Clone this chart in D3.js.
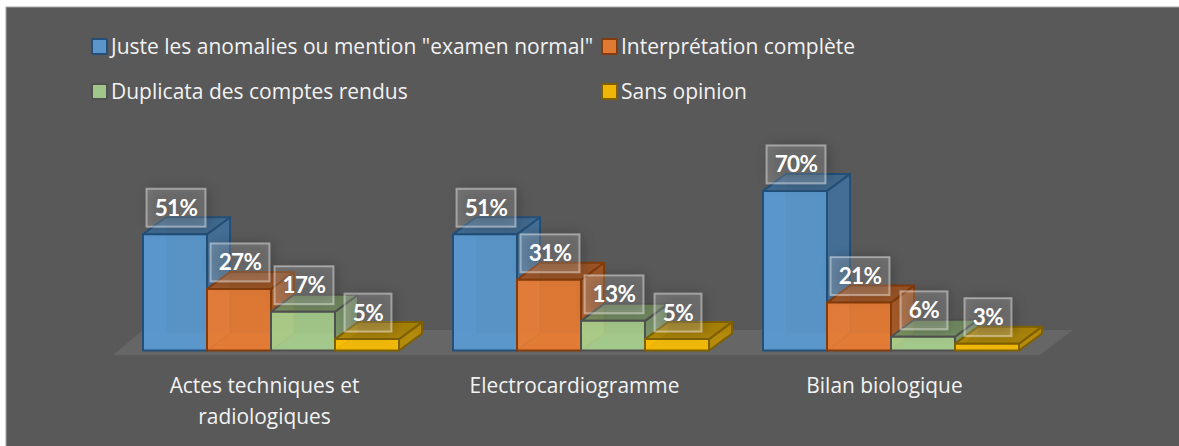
<!DOCTYPE html>
<html>
<head>
<meta charset="utf-8">
<script src="https://cdnjs.cloudflare.com/ajax/libs/d3/7.8.5/d3.min.js"></script>
<style>
	html, body { margin: 0; padding: 0; background: #fff; overflow: hidden; }
	svg { display: block; }
</style>
</head>
<body>
<script>
	var categories = ["Actes techniques et radiologiques", "Electrocardiogramme", "Bilan biologique"];
	var categoryLines = [["Actes techniques et", "radiologiques"], ["Electrocardiogramme"], ["Bilan biologique"]];
	var seriesNames = ["Juste les anomalies ou mention \"examen normal\"", "Interprétation complète", "Duplicata des comptes rendus", "Sans opinion"];

	var justeAnomalies = [51, 51, 70];
	var interpretation = [27, 31, 21];
	var duplicata = [17, 13, 6];
	var sansOpinion = [5, 5, 3];
	var seriesValues = [justeAnomalies, interpretation, duplicata, sansOpinion];

	var frontColors = ["#5b9bd5", "#ed7d31", "#a9d18e", "#ffc000"];
	var edgeColors = ["#234f78", "#843c0c", "#505050", "#7f6000"];

	var depthX = 23, depthY = -17;

	var svg = d3.select("body").append("svg")
		.attr("width", 1179)
		.attr("height", 446);

	var defs = svg.append("defs");
	defs.append("filter").attr("id", "soft")
		.attr("x", "-50%").attr("y", "-50%").attr("width", "200%").attr("height", "200%")
		.append("feGaussianBlur").attr("stdDeviation", 7);

	// fond : va jusqu'aux bords droit et bas
	svg.append("rect")
		.attr("x", 6).attr("y", 7)
		.attr("width", 1179).attr("height", 446)
		.attr("fill", "#595959")
		.attr("stroke", "#a6a6a6");

	var x0 = d3.scaleBand().domain(categories).range([116, 1046]).paddingInner(0.1742).paddingOuter(0.0871);
	var x1 = d3.scaleBand().domain(d3.range(4)).range([0, x0.bandwidth()]);
	var y = d3.scaleLinear().domain([0, 100]).range([350.5, 122.5]);

	// sol
	var floorY = y(0) + 4.5;
	svg.append("polygon")
		.attr("points", [
			[x0.range()[0] - 3, floorY],
			[x0.range()[1] - 6, floorY],
			[x0.range()[1] + 27, floorY - 25],
			[x0.range()[0] + 27, floorY - 25]
		].join(" "))
		.attr("fill", "#666666");

	function poly(g, pts, fill, opacity, stroke) {
		g.append("polygon")
			.attr("points", pts.join(" "))
			.attr("fill", fill)
			.attr("fill-opacity", opacity)
			.attr("stroke", stroke || "none")
			.attr("stroke-width", 2)
			.attr("stroke-linejoin", "round");
	}

	var bars = svg.append("g");
	categories.forEach(function(cat, c) {
		seriesValues.forEach(function(values, s) {
			var l = x0(cat) + x1(s), r = l + x1.bandwidth();
			var t = y(values[c]), b = y(0);
			var dx = depthX, dy = depthY;
			var base = d3.color(frontColors[s]);
			var g = bars.append("g");
			// faces arrière visibles par transparence
			poly(g, [[l, b], [r, b], [r + dx, b + dy], [l + dx, b + dy]], base.brighter(0.25), 0.35);
			poly(g, [[l + dx, b + dy], [r + dx, b + dy], [r + dx, t + dy], [l + dx, t + dy]], base.darker(0.8), 0.35);
			poly(g, [[l, b], [l + dx, b + dy], [l + dx, t + dy], [l, t]], base, 0.5);
			// faces visibles
			poly(g, [[r, b], [r + dx, b + dy], [r + dx, t + dy], [r, t]], base.darker(0.9), 0.85, edgeColors[s]);
			poly(g, [[l, t], [r, t], [r + dx, t + dy], [l + dx, t + dy]], base.darker(1.1), 0.85, edgeColors[s]);
			poly(g, [[l, b], [r, b], [r, t], [l, t]], base, 0.85, edgeColors[s]);
		});
	});

	// étiquettes de données
	var labelData = [];
	categories.forEach(function(cat, c) {
		seriesValues.forEach(function(values, s) {
			labelData.push({
				text: values[c] + "%",
				cx: x0(cat) + x1(s) + x1.bandwidth() / 2 + 1,
				cy: y(values[c]) - 26.5,
				w: values[c] < 10 ? 47 : 59
			});
		});
	});

	svg.append("g").selectAll("rect")
		.data(labelData).enter().append("rect")
		.attr("x", d => d.cx - d.w / 2 + 3)
		.attr("y", d => d.cy - 19)
		.attr("width", d => d.w)
		.attr("height", 38)
		.attr("fill", "#000")
		.attr("fill-opacity", 0.22)
		.attr("filter", "url(#soft)");

	var labels = svg.append("g").selectAll("g")
		.data(labelData).enter().append("g");

	labels.append("rect")
		.attr("x", d => d.cx - d.w / 2)
		.attr("y", d => d.cy - 19)
		.attr("width", d => d.w)
		.attr("height", 38)
		.attr("fill", "#fff")
		.attr("fill-opacity", 0.18)
		.attr("stroke", "#fff")
		.attr("stroke-opacity", 0.42)
		.attr("stroke-width", 2);

	labels.append("text")
		.attr("x", d => d.cx)
		.attr("y", d => d.cy + 8)
		.attr("text-anchor", "middle")
		.attr("font-family", "Lato, sans-serif")
		.attr("font-weight", 700)
		.attr("font-size", 22.5)
		.attr("letter-spacing", -0.6)
		.attr("fill", "#fff")
		.text(d => d.text);

	// catégories
	categories.forEach(function(cat, c) {
		var cx = x0(cat) + x0.bandwidth() / 2 - 6.5;
		categoryLines[c].forEach(function(line, i) {
			svg.append("text")
				.attr("x", cx)
				.attr("y", 393 + i * 30.5)
				.attr("text-anchor", "middle")
				.attr("font-family", "'Open Sans', sans-serif")
				.attr("font-size", 20.9)
				.attr("fill", "#f2f2f2")
				.text(line);
		});
	});

	// légende
	var legendX = [92, 602];
	var legendY = [39, 84];
	seriesNames.forEach(function(name, i) {
		var lx = legendX[i % 2], ly = legendY[Math.floor(i / 2)];
		svg.append("rect")
			.attr("x", lx).attr("y", ly)
			.attr("width", 15).attr("height", 15)
			.attr("rx", 1)
			.attr("fill", frontColors[i])
			.attr("fill-opacity", 0.9)
			.attr("stroke", edgeColors[i])
			.attr("stroke-width", 2);
		svg.append("text")
			.attr("x", lx + 19)
			.attr("y", ly + 14.5)
			.attr("font-family", "'Open Sans', sans-serif")
			.attr("font-size", 21)
			.attr("fill", "#f2f2f2")
			.text(name);
	});
</script>
</body>
</html>
